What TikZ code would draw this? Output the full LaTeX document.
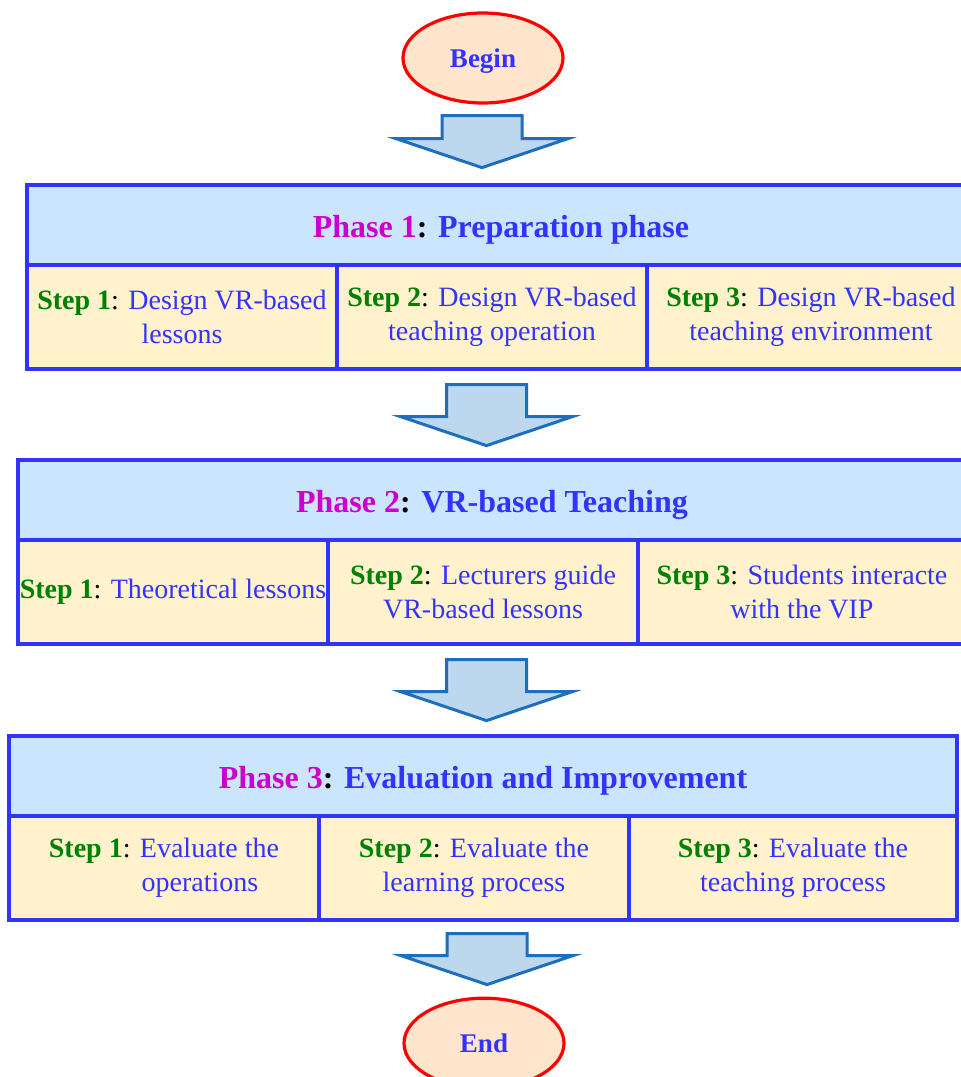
\documentclass[tikz,border=0pt]{standalone}
\usepackage{fontspec}
\setmainfont{Liberation Serif}
\usetikzlibrary{positioning, shapes.geometric, calc}

\definecolor{bordercol}{RGB}{51,51,255}
\definecolor{headfill}{RGB}{204,229,255}
\definecolor{cellfill}{RGB}{255,242,204}
\definecolor{phasecol}{RGB}{204,0,204}
\definecolor{stepcol}{RGB}{0,128,0}
\definecolor{termfill}{RGB}{255,229,204}
\definecolor{arrowfill}{RGB}{189,215,238}
\definecolor{arrowline}{RGB}{31,110,190}

\newcommand{\phasetitle}[2]{\textcolor{phasecol}{Phase #1}: \textcolor{bordercol}{#2}}
\newcommand{\steplabel}[1]{\textbf{\textcolor{stepcol}{Step #1}}\textcolor{black}{:}}

% fat down arrow: x and top from #1, tip height from #2
\newcommand{\flowarrow}[2]{%
  \draw[blockarrow] let \p1=(#1), \p2=(#2) in
    (\x1-20pt,\y1) -- (\x1+20pt,\y1) -- (\x1+20pt,\y2+14.5pt)
    -- (\x1+43pt,\y2+14.5pt) -- (\x1,\y2) -- (\x1-43pt,\y2+14.5pt)
    -- (\x1-20pt,\y2+14.5pt) -- cycle;}

\begin{document}
\begin{tikzpicture}[
    x=1pt, y=1pt, node distance=40pt,
    terminal/.style={ellipse, draw=red, line width=1.6pt, fill=termfill,
      minimum width=80pt, minimum height=45pt, inner sep=0pt,
      text depth=0pt, text=bordercol,
      font=\fontsize{13.5}{16}\selectfont\bfseries},
    phasehead/.style={draw=bordercol, line width=2pt, fill=headfill,
      minimum width=474pt, minimum height=40pt, inner sep=0pt, outer sep=0pt,
      text height=16pt, text depth=3.5pt,
      font=\fontsize{16}{19}\selectfont\bfseries},
    stepcell/.style={draw=bordercol, line width=2pt, fill=cellfill,
      minimum width=155pt, minimum height=52pt, inner sep=0pt, outer sep=0pt,
      align=center, text=bordercol, font=\fontsize{14}{17}\selectfont},
    lastcell/.style={stepcell, minimum width=164pt},
    blockarrow/.style={draw=arrowline, line width=1.5pt, fill=arrowfill}
  ]
  \useasboundingbox (0,0) rectangle (480.5,-538.5);

  \node[terminal] (begin) at (241.5,-29) {Begin};

  % Phase 1
  \node[phasehead, below=40pt of begin, xshift=9pt] (p1)
    {\phasetitle{1}{Preparation phase}};
  \node[stepcell, below right=0pt and 0pt of p1.south west] (s11)
    {\steplabel{1} Design VR-based\\lessons};
  \node[stepcell, right=0pt of s11] (s12)
    {\steplabel{2} Design VR-based\\teaching operation};
  \node[lastcell, right=0pt of s12] (s13)
    {\steplabel{3} Design VR-based\\teaching environment};

  % Phase 2
  \node[phasehead, below=45.5pt of s12] (p2)
    {\phasetitle{2}{VR-based Teaching}};
  \node[stepcell, below right=0pt and 0pt of p2.south west] (s21)
    {\steplabel{1} Theoretical lessons};
  \node[stepcell, right=0pt of s21] (s22)
    {\steplabel{2} Lecturers guide\\VR-based lessons};
  \node[lastcell, right=0pt of s22] (s23)
    {\steplabel{3} Students interacte\\with the VIP};

  % Phase 3
  \node[phasehead, below=46pt of s22] (p3)
    {\phasetitle{3}{Evaluation and Improvement}};
  \node[stepcell, below right=0pt and 0pt of p3.south west] (s31)
    {\steplabel{1} Evaluate the\\\hspace*{36pt}operations};
  \node[stepcell, right=0pt of s31] (s32)
    {\steplabel{2} Evaluate the\\learning process};
  \node[lastcell, right=0pt of s32] (s33)
    {\steplabel{3} Evaluate the\\teaching process};

  \node[terminal, below=38.5pt of s32, xshift=5pt] (end) {End};

  \flowarrow{$(begin.south)+(-0.5,-5.5)$}{$(p1.north)+(0,8.5)$}
  \flowarrow{$(s12.south)+(-2.75,-8)$}{$(p2.north)+(0,7)$}
  \flowarrow{$(s22.south)+(1.75,-8)$}{$(p3.north)+(0,7.5)$}
  \flowarrow{$(s32.south)+(6.5,-7)$}{$(end.north)+(0,6)$}
\end{tikzpicture}
\end{document}
